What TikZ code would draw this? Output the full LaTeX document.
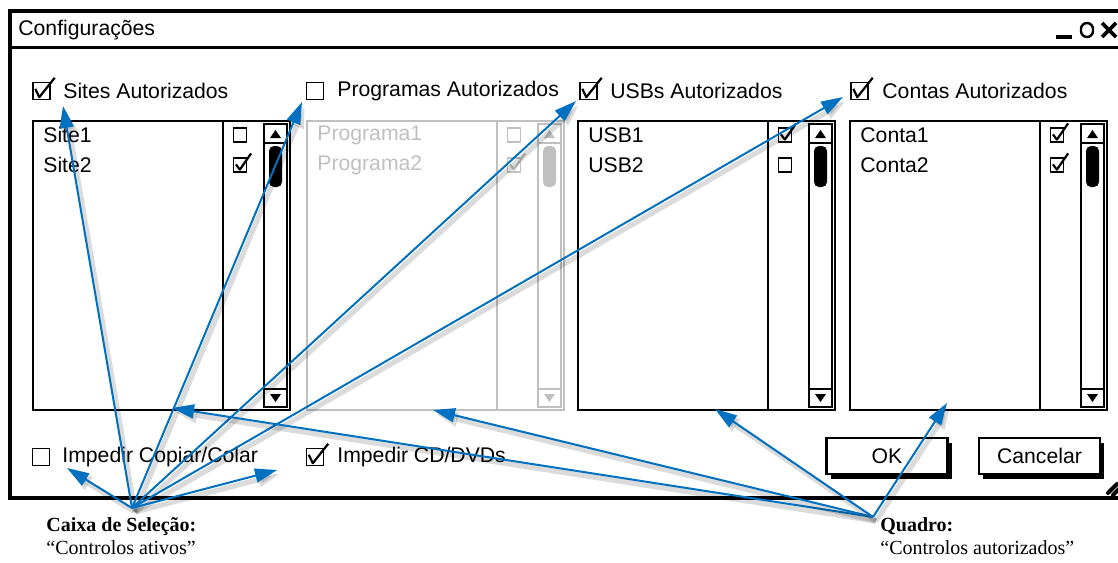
\documentclass[tikz,border=0pt]{standalone}
\usepackage{fontspec}
\setmainfont{Liberation Serif}
\setsansfont{Liberation Sans}
\usetikzlibrary{arrows.meta,shadows}

\definecolor{callout}{RGB}{0,112,192}
\definecolor{dimmed}{RGB}{192,192,192}

% tick mark over a checkbox node
\newcommand{\tick}[2][black]{%
  \draw[#1, line width=1.1pt, line join=round]
    ([shift={(3,7)}]#2.north west) -- ([shift={(7,-3)}]#2.south west)
    -- ([shift={(4,-4)}]#2.north east);}

% list frame with check column and scroll bar, 257 x 289
\newcommand{\panelframe}[1]{%
  \draw[#1, line width=1.4pt] (0,0) rectangle (257,289);
  \draw[#1, line width=.8pt] (190,0) -- (190,289);
  \draw[#1, line width=.8pt] (231,3) rectangle (254,286)
    (231,22) -- (254,22) (231,268) -- (254,268);
  \fill[#1] (237,17) -- (248,17) -- (242.5,9) -- cycle;
  \fill[#1] (237,273) -- (248,273) -- (242.5,281) -- cycle;
  \fill[#1, rounded corners=2.5pt] (236,25) rectangle (249,66);}

\begin{document}
\begin{tikzpicture}[x=.5pt, y=-.5pt,
    ui/.style={font=\sffamily\fontsize{10.6}{12}\selectfont, anchor=west, inner sep=0pt},
    chk/.style={draw, line width=.7pt, minimum size=8.5pt, inner sep=0pt},
    itemchk/.style={draw, line width=.6pt, minimum width=6.5pt, minimum height=7pt, inner sep=0pt},
    button/.style={draw, line width=1.1pt, fill=white, minimum width=60.5pt, minimum height=18pt,
      font=\sffamily\fontsize{10.6}{12}\selectfont,
      drop shadow={shadow xshift=2pt, shadow yshift=-2.5pt, fill=black, opacity=1}},
    callarrow/.style={callout, line width=1pt, -{Triangle[length=11pt,width=7pt]},
      preaction={draw=black, opacity=.14, line width=2.6pt,
        transform canvas={xshift=1.5pt, yshift=-2pt}}},
    note/.style={font=\fontsize{10}{11.5}\selectfont, align=left, anchor=north west, inner sep=0pt}]

  \useasboundingbox (0,0) rectangle (1118,562);
  \clip (0,0) rectangle (1118,562);

  % window and title bar
  \draw[line width=1.7pt] (10,11) rectangle (1130,498);
  \draw[line width=1.5pt] (10,47) -- (1130,47);
  \node[ui] (title) at (18,30) {Configurações};
  \draw[line width=2pt] (1056,37) -- (1072,37);
  \draw[line width=1.2pt, rounded corners=3pt] (1081,23) rectangle (1093,37);
  \draw[line width=1.8pt] (1102,23) -- (1116,37) (1102,37) -- (1116,23);
  \draw[line width=2pt, line cap=round] (1108,493) -- (1117,484) (1113,495) -- (1119,489);

  % header checkboxes
  \node[chk] (sitechk) at (41.5,91) {}; \tick{sitechk}
  \node[ui] (sitelbl) at (63,91) {Sites Autorizados};
  \node[chk] (progchk) at (315,91) {};
  \node[ui] (proglbl) at (337,91) {Programas Autorizados};
  \node[chk] (usbchk) at (588.5,91) {}; \tick{usbchk}
  \node[ui] (usblbl) at (610,91) {USBs Autorizados};
  \node[chk] (contachk) at (859.5,91) {}; \tick{contachk}
  \node[ui] (contalbl) at (882,91) {Contas Autorizados};

  % lists
  \begin{scope}[shift={(33,121)}]
    \panelframe{black}
    \node[ui] (site1) at (10,14) {Site1};
    \node[ui] (site2) at (10,44) {Site2};
    \node[itemchk] (site1chk) at (207,14) {};
    \node[itemchk] (site2chk) at (207,44) {}; \tick{site2chk}
  \end{scope}
  \begin{scope}[shift={(307,121)}]
    \panelframe{dimmed}
    \node[ui, text=dimmed] (prog1) at (10,14) {Programa1};
    \node[ui, text=dimmed] (prog2) at (10,44) {Programa2};
    \node[itemchk, draw=dimmed] (prog1chk) at (207,14) {};
    \node[itemchk, draw=dimmed] (prog2chk) at (207,44) {}; \tick[dimmed]{prog2chk}
  \end{scope}
  \begin{scope}[shift={(578,121)}]
    \panelframe{black}
    \node[ui] (usb1) at (10,14) {USB1};
    \node[ui] (usb2) at (10,44) {USB2};
    \node[itemchk] (usb1chk) at (207,14) {}; \tick{usb1chk}
    \node[itemchk] (usb2chk) at (207,44) {};
  \end{scope}
  \begin{scope}[shift={(850,121)}]
    \panelframe{black}
    \node[ui] (conta1) at (10,14) {Conta1};
    \node[ui] (conta2) at (10,44) {Conta2};
    \node[itemchk] (conta1chk) at (207,14) {}; \tick{conta1chk}
    \node[itemchk] (conta2chk) at (207,44) {}; \tick{conta2chk}
  \end{scope}

  % bottom row
  \node[chk] (copychk) at (41,457) {};
  \node[ui] (copylbl) at (62,457) {Impedir Copiar/Colar};
  \node[chk] (cdchk) at (315,457) {}; \tick{cdchk}
  \node[ui] (cdlbl) at (337,457) {Impedir CD/DVDs};
  \node[button] (okbtn) at (887,456) {OK};
  \node[button] (cancelbtn) at (1039.5,456) {Cancelar};

  % callouts
  \node[note] (caixatxt) at (46,517) {\textbf{Caixa de Seleção:}\\“Controlos ativos”};
  \node[note] (quadrotxt) at (880,517) {\textbf{Quadro:}\\“Controlos autorizados”};
  \coordinate (caixa) at (132,508);
  \coordinate (quadro) at (873,517);

  \coordinate (tipsite) at (63,106);
  \coordinate (tipprog) at (302,102);
  \coordinate (tipusb) at (576,101);
  \coordinate (tipconta) at (843,97);
  \coordinate (tipcopy) at (67,468);
  \coordinate (tipcd) at (277,470);
  \coordinate (tipsitebox) at (172,408);
  \coordinate (tipprogbox) at (433,410);
  \coordinate (tipusbbox) at (715,409);
  \coordinate (tipcontabox) at (947,403);

  \draw[callarrow] (caixa) -- (tipsite);
  \draw[callarrow] (caixa) -- (tipprog);
  \draw[callarrow] (caixa) -- (tipusb);
  \draw[callarrow] (caixa) -- (tipconta);
  \draw[callarrow] (caixa) -- (tipcopy);
  \draw[callarrow] (caixa) -- (tipcd);
  \draw[callarrow] (quadro) -- (tipsitebox);
  \draw[callarrow] (quadro) -- (tipprogbox);
  \draw[callarrow] (quadro) -- (tipusbbox);
  \draw[callarrow] (quadro) -- (tipcontabox);

\end{tikzpicture}
\end{document}
